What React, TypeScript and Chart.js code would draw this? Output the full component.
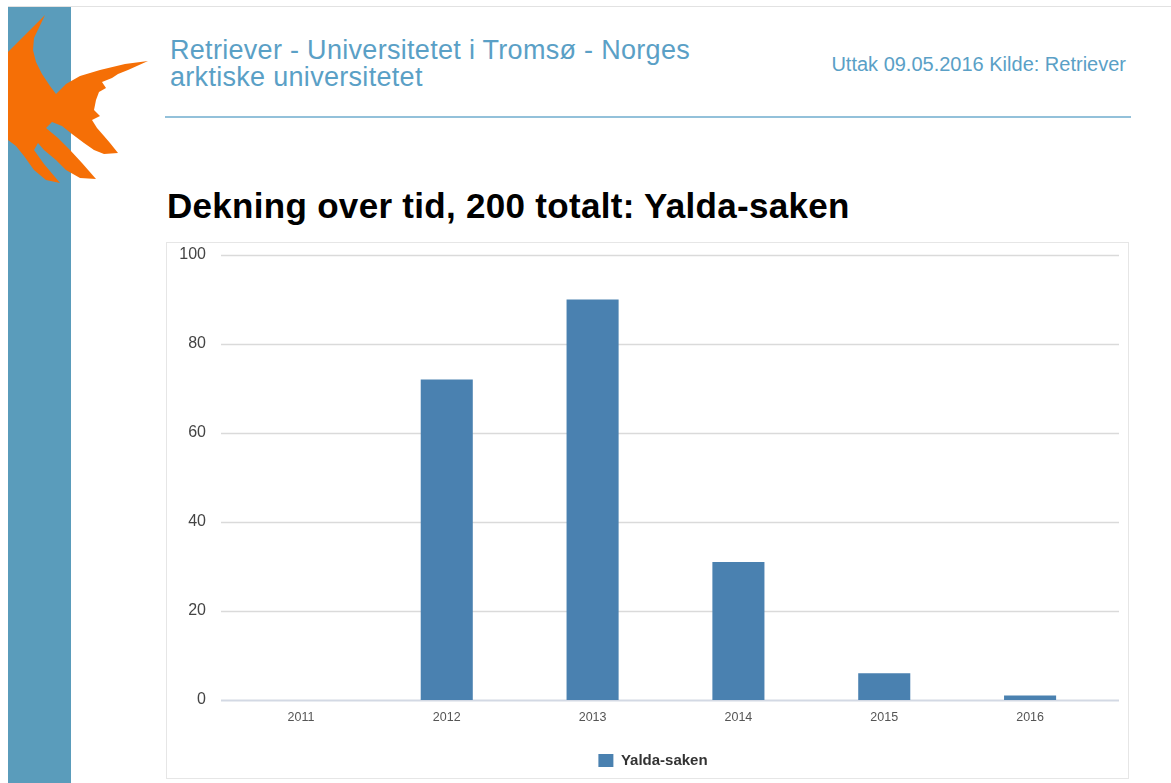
import React, { useEffect, useRef } from "react";
import { Chart, registerables } from "chart.js";

Chart.register(...registerables);

const years = ["2011", "2012", "2013", "2014", "2015", "2016"];
const articleCounts = [0, 72, 90, 31, 6, 1];
const seriesLabel = "Yalda-saken";
const yTicks = [0, 20, 40, 60, 80, 100];

const FONT = "'Liberation Sans', Arial, Helvetica, sans-serif";

const wideGrid = {
  id: "wideGrid",
  beforeDatasetsDraw(chart: any) {
    const { ctx, chartArea, scales } = chart;
    const y = scales.y;
    ctx.save();
    yTicks.forEach((v) => {
      const py = Math.round(y.getPixelForValue(v)) + 0.5;
      ctx.beginPath();
      ctx.strokeStyle = v === 0 ? "#d3d9e4" : "#dadada";
      ctx.lineWidth = v === 0 ? 2 : 1.3;
      ctx.moveTo(chartArea.left - 7, py);
      ctx.lineTo(chartArea.right + 16, py);
      ctx.stroke();
    });
    ctx.restore();
  },
};

// centre the legend under the plot the way the original does
const legendShift = {
  id: "legendShift",
  afterLayout(chart: any) {
    if (chart.legend) {
      chart.legend.left += 18;
      chart.legend.right += 18;
    }
  },
};

function BarChart() {
  const ref = useRef<HTMLCanvasElement>(null);
  useEffect(() => {
    if (!ref.current) return;
    const chart = new Chart(ref.current, {
      type: "bar",
      data: {
        labels: years,
        datasets: [
          {
            label: seriesLabel,
            data: articleCounts,
            backgroundColor: "#4a81b0",
            borderColor: "#4a81b0",
            borderWidth: 0,
            barPercentage: 0.357,
            categoryPercentage: 1,
          },
        ],
      },
      options: {
        animation: false,
        responsive: false,
        maintainAspectRatio: false,
        layout: { padding: { top: 12, right: 25, left: 0, bottom: 0 } },
        plugins: {
          legend: {
            display: true,
            position: "bottom",
            labels: {
              boxWidth: 15,
              boxHeight: 13,
              color: "#333",
              font: { family: FONT, size: 15, weight: "bold" },
              padding: 14,
            },
          },
          tooltip: { enabled: false },
        },
        scales: {
          x: {
            grid: { display: false, drawTicks: false },
            border: { display: false },
            afterFit: (s: any) => {
              s.height = 39;
            },
            ticks: {
              color: "#555",
              font: { family: FONT, size: 12.5 },
              padding: 10,
              maxRotation: 0,
            },
          },
          y: {
            min: 0,
            max: 100,
            grid: { display: false, drawTicks: false },
            border: { display: false },
            afterFit: (s: any) => {
              s.width = 61;
              s.paddingTop = 9;
              s.paddingBottom = 9;
            },
            ticks: {
              stepSize: 20,
              color: "#444",
              font: { family: FONT, size: 16 },
              padding: 22,
            },
          },
        },
      },
      plugins: [wideGrid, legendShift],
    });
    return () => chart.destroy();
  }, []);
  return <canvas ref={ref} width={961} height={535} style={{ display: "block", width: 961, height: 535 }} />;
}

const fishPath =
  "M8 52 L30 30 L45 15 L34 38 L33 50 L36 62 L42 74 L50 86 L56 94 L66 84 L80 76 L100 70 L125 64 L148 61 L128 70 L118 74 L112 78 L102 82 L106 88 L99 92 L96 100 L94 110 L100 116 L92 120 L97 128 L104 136 L110 143 L118 153 L104 154 L94 150 L84 143 L72 134 L62 126 L52 122 L46 128 L58 138 L70 150 L82 163 L96 179 L80 178 L66 170 L56 160 L44 150 L38 143 L34 150 L44 164 L60 183 L46 180 L34 170 L24 156 L16 146 L8 140 Z";

export default function App() {
  return (
    <div style={{ position: "absolute", left: 0, top: 0, width: 1171, height: 783, background: "#fff", overflow: "hidden", fontFamily: FONT }}>
      <div style={{ position: "absolute", left: 8, top: 6, width: 1163, height: 1, background: "#e2e2e2" }} />
      <div style={{ position: "absolute", left: 8, top: 7, width: 63, height: 776, background: "#5a9cbb" }} />
      <svg style={{ position: "absolute", left: 0, top: 0 }} width={160} height={200}>
        <path d={fishPath} fill="#f56f06" />
      </svg>
      <div style={{ position: "absolute", left: 170, top: 37, fontSize: 27, letterSpacing: 0.3, lineHeight: "27px", color: "#5aa0c6", whiteSpace: "nowrap" }}>
        Retriever - Universitetet i Tromsø - Norges
        <br />
        arktiske universitetet
      </div>
      <div style={{ position: "absolute", right: 45, top: 53, fontSize: 20, color: "#5aa0c6", whiteSpace: "nowrap" }}>
        Uttak 09.05.2016 Kilde: Retriever
      </div>
      <div style={{ position: "absolute", left: 165, top: 116, width: 966, height: 2, background: "#93c1da" }} />
      <div style={{ position: "absolute", left: 167, top: 186, fontSize: 35, letterSpacing: 0.3, fontWeight: "bold", color: "#000", whiteSpace: "nowrap" }}>
        Dekning over tid, 200 totalt: Yalda-saken
      </div>
      <div style={{ position: "absolute", left: 166, top: 242, width: 961, height: 535, border: "1px solid #e6e6e6" }}>
        <BarChart />
      </div>
    </div>
  );
}
